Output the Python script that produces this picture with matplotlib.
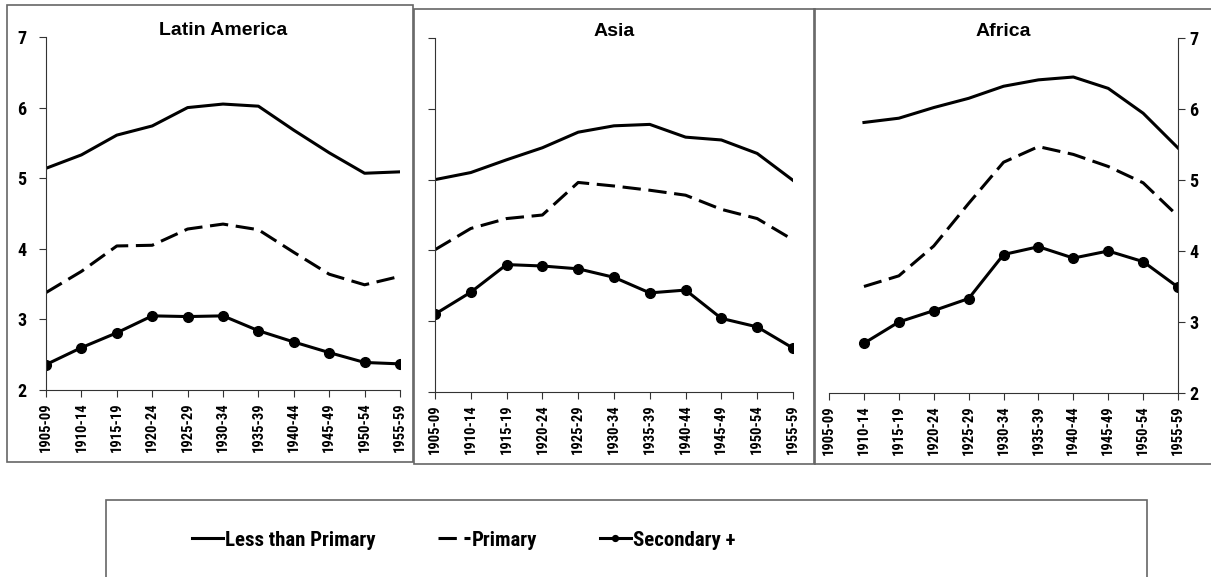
import numpy as np
import matplotlib
matplotlib.use('Agg')
import matplotlib.pyplot as plt
from matplotlib.patches import Rectangle

NARROW = ['Roboto Condensed', 'Barlow Semi Condensed', 'Liberation Sans', 'DejaVu Sans']
plt.rcParams['font.family'] = NARROW
plt.rcParams['font.weight'] = 'bold'

cohorts = ['1905-09', '1910-14', '1915-19', '1920-24', '1925-29', '1930-34',
           '1935-39', '1940-44', '1945-49', '1950-54', '1955-59']

# Latin America
la_less = [5.14, 5.33, 5.61, 5.74, 6.00, 6.05, 6.02, 5.68, 5.36, 5.07, 5.09]
la_prim = [3.38, 3.68, 4.04, 4.05, 4.28, 4.35, 4.27, 3.95, 3.64, 3.49, 3.61]
la_sec = [2.36, 2.60, 2.81, 3.05, 3.04, 3.05, 2.84, 2.68, 2.53, 2.39, 2.37]

# Asia
as_less = [5.00, 5.10, 5.28, 5.45, 5.67, 5.76, 5.78, 5.60, 5.56, 5.37, 4.99]
as_prim = [4.01, 4.31, 4.45, 4.50, 4.96, 4.91, 4.85, 4.78, 4.58, 4.45, 4.15]
as_sec = [3.10, 3.41, 3.80, 3.78, 3.74, 3.62, 3.40, 3.44, 3.04, 2.92, 2.62]

# Africa (no data for the 1905-09 cohort)
af_less = [np.nan, 5.81, 5.87, 6.02, 6.15, 6.32, 6.41, 6.45, 6.29, 5.94, 5.45]
af_prim = [np.nan, 3.50, 3.65, 4.07, 4.67, 5.25, 5.47, 5.36, 5.19, 4.96, 4.49]
af_sec = [np.nan, 2.70, 3.00, 3.16, 3.33, 3.95, 4.06, 3.90, 4.00, 3.85, 3.49]

panels = [
    ('Latin America', la_less, la_prim, la_sec, [0.038, 0.3241, 0.2923, 0.6118], 'left'),
    ('Asia', as_less, as_prim, as_sec, [0.3592, 0.3206, 0.2956, 0.6135], 'none'),
    ('Africa', af_less, af_prim, af_sec, [0.6846, 0.3189, 0.2882, 0.6153], 'right'),
]

fig = plt.figure(figsize=(12.11, 5.77), dpi=100)

# grey frames around each panel and the legend (pixel boxes)
frame_kw = dict(transform=fig.transFigure, fill=False, edgecolor='#666666', lw=1.2)
for x0, y0, x1, y1 in [(7, 5, 413, 462), (414, 9, 815, 464), (814, 9, 1215, 464), (106, 500, 1147, 590)]:
    fig.add_artist(Rectangle((x0 / 1211, 1 - y1 / 577), (x1 - x0) / 1211, (y1 - y0) / 577, **frame_kw))

x = np.arange(len(cohorts))
lw = 2.2
for title, less, prim, sec, pos, yside in panels:
    ax = fig.add_axes(pos)
    l1, = ax.plot(x, less, color='black', lw=lw, label='Less than Primary')
    l2, = ax.plot(x, prim, color='black', lw=lw, dashes=(6, 2.5), label='Primary')
    l3, = ax.plot(x, sec, color='black', lw=lw, marker='o', ms=7, label='Secondary +')
    ax.set_xlim(0, 10)
    ax.set_ylim(2, 7)
    ax.set_xticks(x)
    ax.set_xticklabels(cohorts, rotation=90, fontsize=10.5, fontweight='bold')
    ax.set_yticks([2, 3, 4, 5, 6, 7])
    for s in ['top', 'right', 'left']:
        ax.spines[s].set_visible(False)
    ax.spines['bottom'].set_color('#333333')
    ax.spines['bottom'].set_linewidth(0.8)
    ax.tick_params(axis='x', direction='out', length=5, width=0.8, color='#333333', pad=4)
    if yside == 'right':
        ax.spines['right'].set_visible(True)
        ax.spines['right'].set_color('#333333')
        ax.spines['right'].set_linewidth(0.8)
        ax.yaxis.tick_right()
        ax.tick_params(axis='y', direction='out', length=5, width=0.8, color='#333333',
                       labelsize=13, pad=3)
    else:
        ax.spines['left'].set_visible(True)
        ax.spines['left'].set_color('#333333')
        ax.spines['left'].set_linewidth(0.8)
        ax.tick_params(axis='y', direction='out', length=5, width=0.8, color='#333333',
                       labelsize=13, pad=9, labelleft=(yside == 'left'))
    for lab in ax.get_yticklabels():
        lab.set_fontweight('bold')
    ax.text(0.5, 1.005, title, transform=ax.transAxes, ha='center', va='baseline',
            fontsize=14, fontweight='bold', family=['Liberation Sans', 'DejaVu Sans'])

fig.legend([l1, l2, l3], ['Less than Primary', 'Primary', 'Secondary +'],
           loc='center', bbox_to_anchor=(0.383, 0.064), ncol=3, frameon=False,
           prop={'size': 15, 'weight': 'bold'}, handlelength=1.5, handletextpad=0.1,
           columnspacing=3.0, markerscale=0.6)

plt.savefig('out.png', dpi=100)
